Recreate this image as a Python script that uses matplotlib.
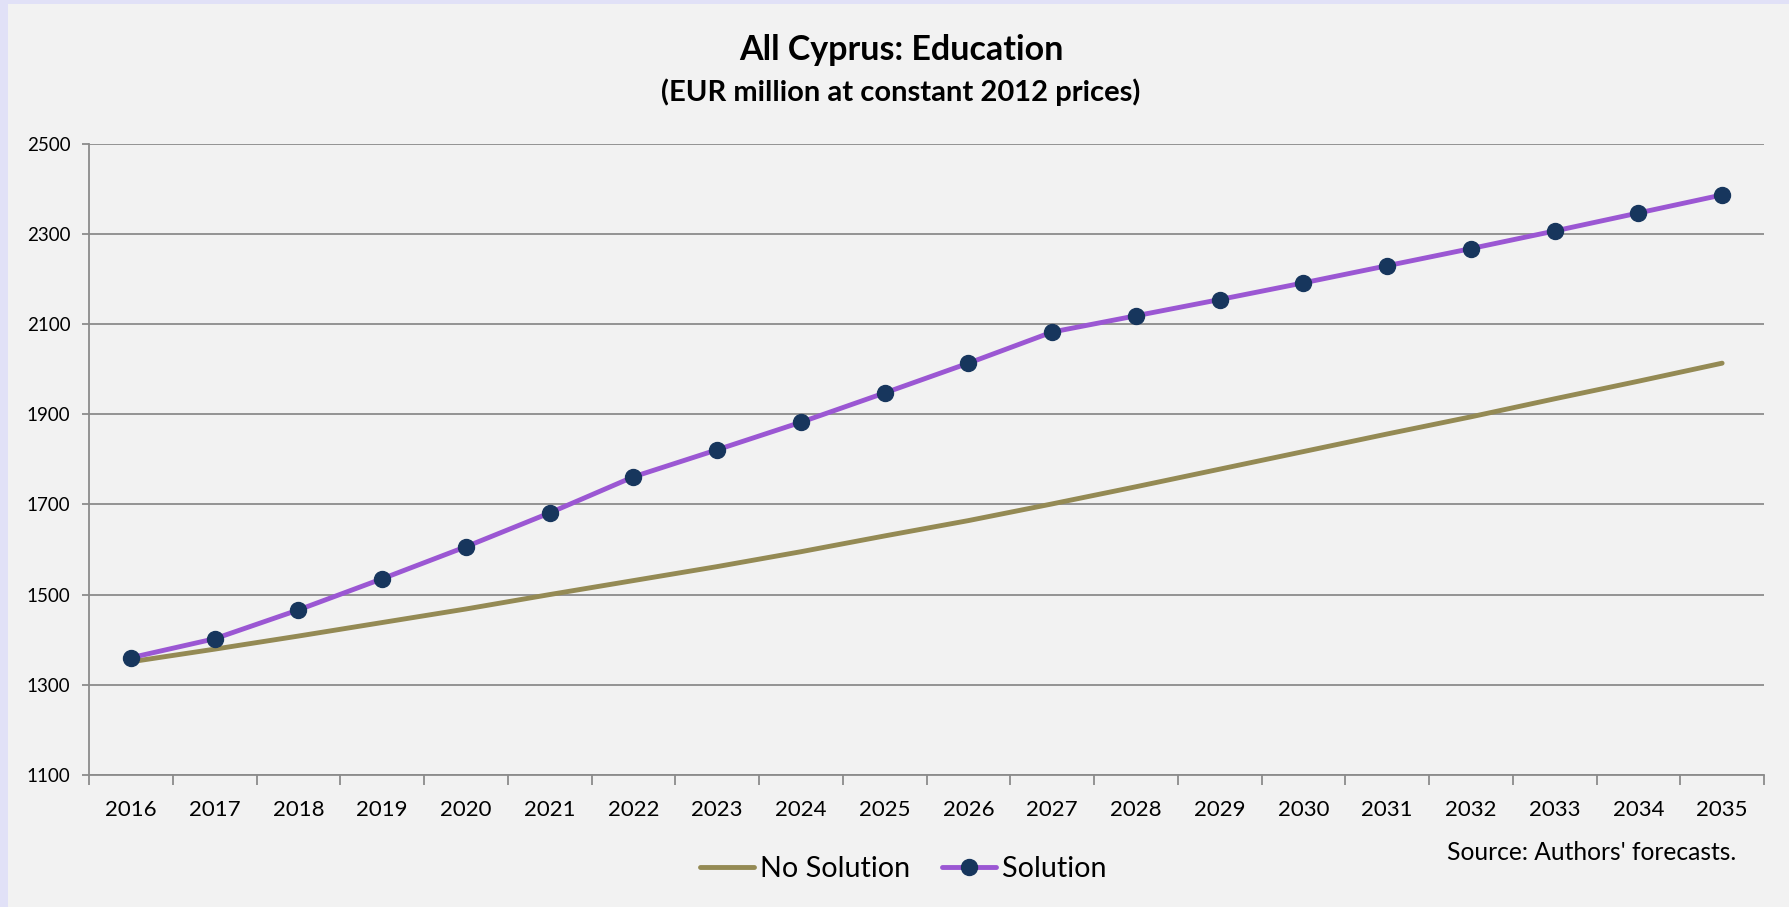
import numpy as np
import matplotlib
matplotlib.use("Agg")
import matplotlib.pyplot as plt
from matplotlib.patches import Rectangle
from matplotlib.lines import Line2D

plt.rcParams['font.family'] = ['Lato', 'DejaVu Sans']

# Education spending, EUR million at constant 2012 prices
years = [str(y) for y in range(2016, 2036)]
no_solution = [1351, 1379, 1408, 1438, 1468, 1500, 1531, 1562, 1595, 1630,
               1664, 1701, 1739, 1778, 1817, 1856, 1894, 1934, 1973, 2013]
solution = [1360, 1402, 1466, 1535, 1606, 1681, 1761, 1821, 1882, 1947,
            2013, 2082, 2118, 2154, 2191, 2229, 2267, 2306, 2346, 2386]
y_ticks = [1100, 1300, 1500, 1700, 1900, 2100, 2300, 2500]

W, H = 1789, 907
fig = plt.figure(figsize=(W / 100, H / 100), dpi=100)
fig.patch.set_facecolor('#F2F2F2')

# lavender frame along the top and left edges
fig.add_artist(Rectangle((0, 0), 8 / W, 1, transform=fig.transFigure,
                         facecolor='#E1E1F7', edgecolor='none'))
fig.add_artist(Rectangle((0, 1 - 4 / H), 1, 4 / H, transform=fig.transFigure,
                         facecolor='#E1E1F7', edgecolor='none'))

left, right, top, bottom = 89, 1764, 143.5, 775
ax = fig.add_axes([left / W, 1 - bottom / H, (right - left) / W, (bottom - top) / H])
ax.set_facecolor('#F2F2F2')

x = np.arange(len(years))
ax.plot(x, no_solution, color='#948A54', lw=3.5, solid_capstyle='round', zorder=3)
ax.plot(x, solution, color='#9B57D3', lw=3.5, marker='o', ms=11.5,
        mfc='#17365D', mec='#17365D', solid_capstyle='round', zorder=4)

ax.set_xlim(-0.5, len(years) - 0.5)
ax.set_ylim(1100, 2500)

grid_c = '#8C8C8C'
ax.set_yticks(y_ticks)
ax.set_yticklabels([str(v) for v in y_ticks], fontsize=13.5)
ax.yaxis.grid(True, color=grid_c, lw=1.3, zorder=1)
ax.tick_params(axis='y', length=5, width=1.3, color=grid_c, pad=8.5)

# category boundaries carry the tick marks, labels sit in the middle
ax.set_xticks(np.arange(-0.5, len(years), 1.0))
ax.set_xticklabels([])
ax.set_xticks(x, minor=True)
ax.set_xticklabels(years, minor=True, fontsize=16)
ax.tick_params(axis='x', which='major', length=7, width=1.3, color=grid_c, direction='out')
ax.tick_params(axis='x', which='minor', length=0, pad=18)

for s in ['top', 'right']:
    ax.spines[s].set_visible(False)
for s in ['left', 'bottom']:
    ax.spines[s].set_color(grid_c)
    ax.spines[s].set_linewidth(1.3)

fig.text(901 / W, 1 - 50 / H, 'All Cyprus: Education', ha='center', va='center',
         fontsize=24.5, fontweight='bold')
fig.text(901 / W, 1 - 92 / H, '(EUR million at constant 2012 prices)', ha='center',
         va='center', fontsize=21, fontweight='bold')
fig.text(1736 / W, 1 - 853 / H, "Source: Authors' forecasts.", ha='right', va='center',
         fontsize=17.7)

handles = [Line2D([], [], color='#948A54', lw=3.5, solid_capstyle='round'),
           Line2D([], [], color='#9B57D3', lw=3.5, marker='o', ms=11.5,
                  mfc='#17365D', mec='#17365D', solid_capstyle='round')]
fig.legend(handles, ['No Solution', 'Solution'], loc='center',
           bbox_to_anchor=(903 / W, 1 - 869 / H), ncol=2, frameon=False,
           fontsize=20.7, handlelength=1.9, handletextpad=0.2, columnspacing=1.1)

fig.savefig('out.png', dpi=100, facecolor=fig.get_facecolor())
